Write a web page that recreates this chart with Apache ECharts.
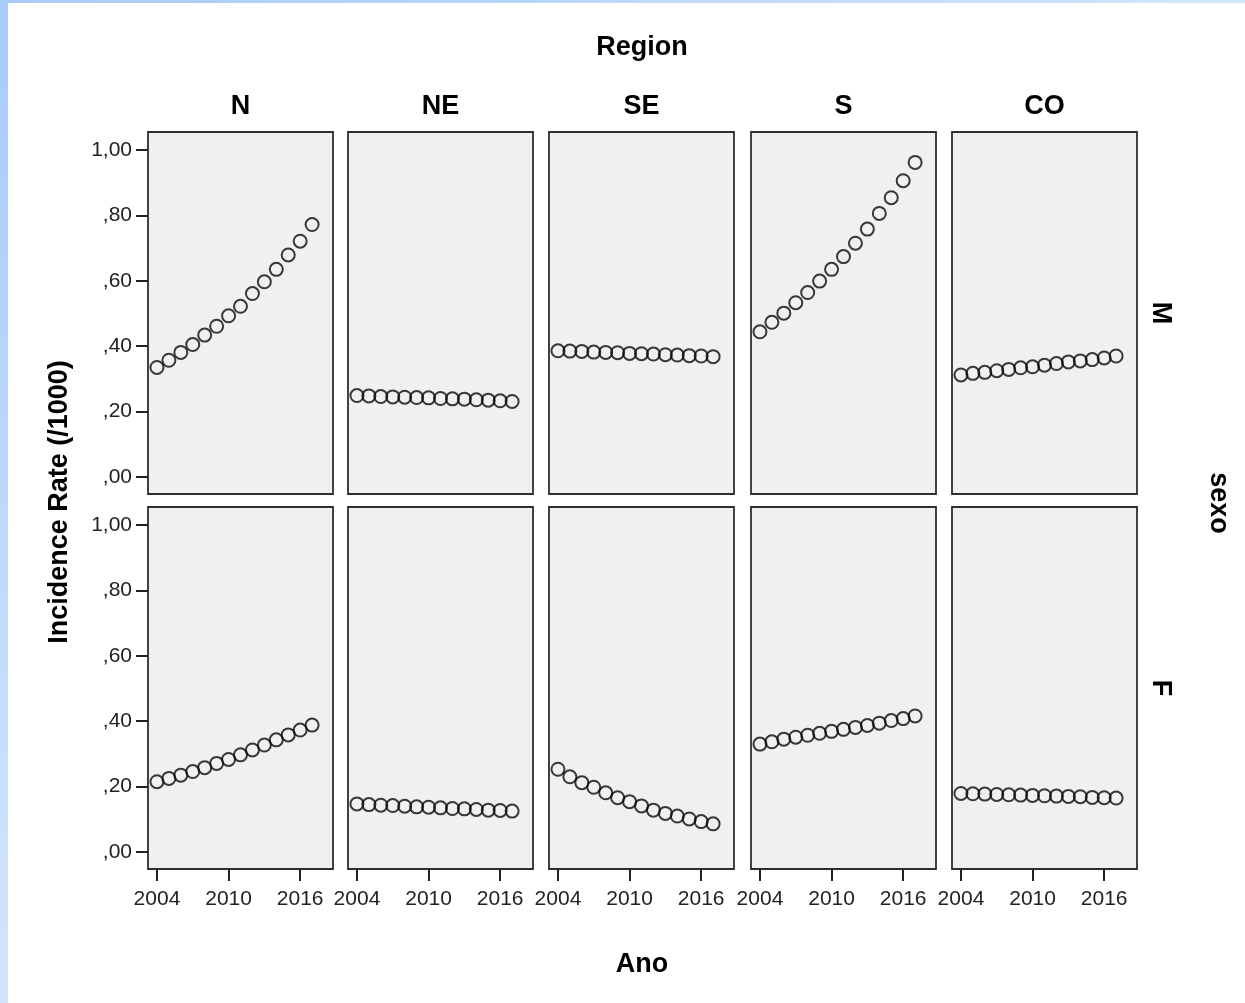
<!DOCTYPE html>
<html lang="en">
<head>
    <meta charset="UTF-8">
    <title>Incidence Rate by Region and sexo</title>
    <style>
        html, body { margin: 0; padding: 0; background: #fff; }
        #chart-wrap { width: 1245px; height: 1003px; }
    </style>
</head>
<body>
<div id="chart-wrap"></div>
<script src="https://cdn.jsdelivr.net/npm/echarts@6/dist/echarts.min.js"></script>
<script type="text/javascript">
    // data
    var years = [2004, 2005, 2006, 2007, 2008, 2009, 2010, 2011, 2012, 2013, 2014, 2015, 2016, 2017];
    var regions = ['N', 'NE', 'SE', 'S', 'CO'];
    var sexes = ['M', 'F'];
    var yTicks = [0, 0.2, 0.4, 0.6, 0.8, 1.0];
    var xTicks = [2004, 2010, 2016];

    // sexo M
    var rateN_M  = [0.335, 0.357, 0.381, 0.405, 0.434, 0.461, 0.493, 0.522, 0.561, 0.597, 0.635, 0.679, 0.721, 0.772];
    var rateNE_M = [0.249, 0.248, 0.246, 0.245, 0.244, 0.243, 0.242, 0.240, 0.239, 0.238, 0.236, 0.235, 0.233, 0.231];
    var rateSE_M = [0.386, 0.385, 0.384, 0.382, 0.381, 0.380, 0.378, 0.377, 0.376, 0.374, 0.373, 0.371, 0.370, 0.368];
    var rateS_M  = [0.444, 0.473, 0.501, 0.533, 0.564, 0.599, 0.635, 0.674, 0.715, 0.758, 0.806, 0.854, 0.906, 0.962];
    var rateCO_M = [0.312, 0.317, 0.320, 0.325, 0.329, 0.334, 0.337, 0.342, 0.347, 0.352, 0.355, 0.359, 0.364, 0.370];
    // sexo F
    var rateN_F  = [0.215, 0.225, 0.235, 0.246, 0.258, 0.271, 0.283, 0.297, 0.312, 0.327, 0.343, 0.358, 0.373, 0.388];
    var rateNE_F = [0.147, 0.145, 0.143, 0.142, 0.140, 0.138, 0.137, 0.135, 0.133, 0.132, 0.130, 0.128, 0.127, 0.125];
    var rateSE_F = [0.253, 0.230, 0.212, 0.198, 0.181, 0.166, 0.154, 0.141, 0.128, 0.118, 0.110, 0.101, 0.093, 0.086];
    var rateS_F  = [0.330, 0.337, 0.345, 0.351, 0.357, 0.363, 0.369, 0.375, 0.381, 0.387, 0.394, 0.402, 0.408, 0.416];
    var rateCO_F = [0.179, 0.178, 0.177, 0.176, 0.175, 0.174, 0.173, 0.172, 0.171, 0.170, 0.169, 0.167, 0.166, 0.165];

    var rows = [
        [rateN_M, rateNE_M, rateSE_M, rateS_M, rateCO_M],
        [rateN_F, rateNE_F, rateSE_F, rateS_F, rateCO_F]
    ];

    var panelLeft = [148, 348, 549, 751, 952];
    var panelTop = [132, 507];
    var panelW = 185, panelH = 362;
    var txtFont = 'Liberation Sans';

    var chart = echarts.init(document.getElementById('chart-wrap'));

    var grids = [], xAxes = [], yAxes = [], series = [];
    for (var r = 0; r < sexes.length; r++) {
        for (var c = 0; c < regions.length; c++) {
            var idx = grids.length;
            grids.push({
                left: panelLeft[c], top: panelTop[r], width: panelW, height: panelH,
                show: true, backgroundColor: '#f0f0f0', borderColor: '#2e2e2e', borderWidth: 1.8,
                outerBoundsMode: 'none'
            });
            var isBottom = r === sexes.length - 1;
            xAxes.push({
                type: 'value', gridIndex: idx, min: 2003.25, max: 2018.75, position: 'bottom',
                splitLine: {show: false}, axisLine: {show: false, onZero: false},
                axisTick: {show: isBottom, customValues: xTicks, length: 12, lineStyle: {color: '#222', width: 2}},
                axisLabel: {show: isBottom, customValues: xTicks, margin: 20, color: '#222',
                    fontFamily: txtFont, fontSize: 21,
                    formatter: function (v) { return String(v); }}
            });
            var isFirst = c === 0;
            yAxes.push({
                type: 'value', gridIndex: idx, min: -0.052, max: 1.055, position: 'left',
                splitLine: {show: false}, axisLine: {show: false, onZero: false},
                axisTick: {show: isFirst, customValues: yTicks, length: 12, lineStyle: {color: '#222', width: 2}},
                axisLabel: {show: isFirst, customValues: yTicks, margin: 16, color: '#222',
                    fontFamily: txtFont, fontSize: 21,
                    formatter: function (v) {
                        return v.toFixed(2).replace('.', ',').replace(/^0/, '');
                    }}
            });
            var pts = [];
            for (var i = 0; i < years.length; i++) {
                pts.push([years[i], rows[r][c][i]]);
            }
            series.push({
                name: regions[c] + ' ' + sexes[r],
                type: 'scatter', xAxisIndex: idx, yAxisIndex: idx,
                data: pts, symbol: 'circle', symbolSize: 13,
                itemStyle: {color: 'rgba(0,0,0,0)', borderColor: '#0a0a0a', borderWidth: 2},
                silent: true
            });
        }
    }

    var bold = {fontFamily: txtFont, fontWeight: 'bold', fontSize: 27, fill: '#000', align: 'center', verticalAlign: 'middle'};
    var graphics = [
        // light blue frame on left and top
        {type: 'rect', shape: {x: 0, y: 0, width: 8, height: 1003}, silent: true,
            style: {fill: new echarts.graphic.LinearGradient(0, 0, 0, 1, [
                {offset: 0, color: '#a8cbfa'}, {offset: 1, color: '#d3e5fc'}])}},
        {type: 'rect', shape: {x: 0, y: 0, width: 1245, height: 3}, silent: true,
            style: {fill: new echarts.graphic.LinearGradient(0, 0, 1, 0, [
                {offset: 0, color: '#a8cbfa'}, {offset: 1, color: '#d3e5fc'}])}},
        {type: 'text', x: 642, y: 48, style: Object.assign({text: 'Region'}, bold)},
        {type: 'text', x: 642, y: 965, style: Object.assign({text: 'Ano'}, bold)},
        {type: 'text', x: 60, y: 502, rotation: Math.PI / 2, style: Object.assign({text: 'Incidence Rate (/1000)'}, bold)},
        {type: 'text', x: 1218, y: 503, rotation: -Math.PI / 2, style: Object.assign({text: 'sexo'}, bold)}
    ];
    for (var c2 = 0; c2 < regions.length; c2++) {
        graphics.push({type: 'text', x: panelLeft[c2] + panelW / 2, y: 107,
            style: Object.assign({text: regions[c2]}, bold)});
    }
    for (var r2 = 0; r2 < sexes.length; r2++) {
        graphics.push({type: 'text', x: 1160, y: panelTop[r2] + panelH / 2, rotation: -Math.PI / 2,
            style: Object.assign({text: sexes[r2]}, bold)});
    }

    var option = {
        backgroundColor: '#ffffff',
        animation: false,
        grid: grids,
        xAxis: xAxes,
        yAxis: yAxes,
        series: series,
        graphic: graphics
    };
    chart.setOption(option);
</script>
</body>
</html>
